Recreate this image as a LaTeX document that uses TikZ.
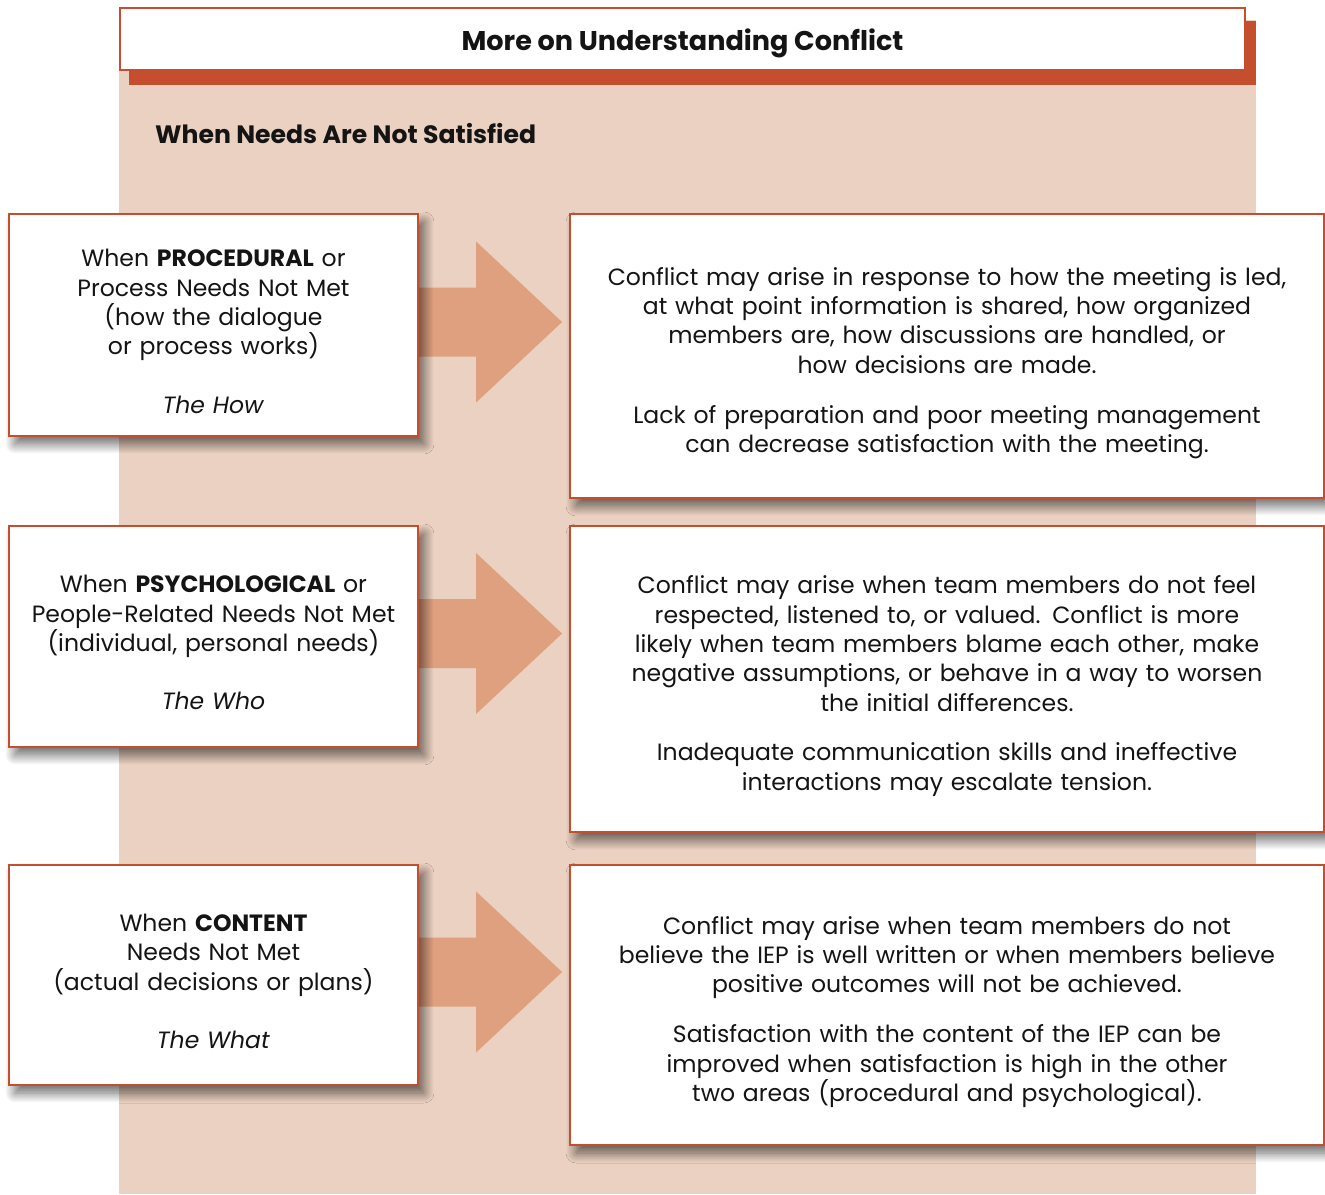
\documentclass[tikz,border=0pt]{standalone}
\usepackage{fontspec}
\setmainfont{Poppins}
\usepackage{tikz}
\usetikzlibrary{positioning,calc,shadows.blur,backgrounds}
\definecolor{rust}{RGB}{197,78,46}
\definecolor{panel}{RGB}{235,209,193}
\definecolor{arrowfill}{RGB}{223,160,128}
\definecolor{ink}{RGB}{20,20,20}

\begin{document}
\begin{tikzpicture}[
                  x=0.02cm,y=0.02cm,
                  font=\fontsize{13.4}{16.7}\selectfont,
                  text=ink,
                  shade/.style={blur shadow={shadow xshift=0.12cm,shadow yshift=-0.16cm,shadow blur radius=0.2cm,shadow blur steps=16,shadow opacity=60}},
                  need/.style={draw=rust,line width=1.3pt,fill=white,shade,align=center,minimum width=8.18cm,text width=7.9cm,execute at begin node={\rule{0pt}{0.6cm}}},
                  why/.style={draw=rust,line width=1.3pt,fill=white,shade,align=center,minimum width=15.08cm,text width=14.7cm,execute at begin node={\rule{0pt}{0.64cm}}}
                ]
                \useasboundingbox (0,0) rectangle (1325,-1194);
                % title
                \fill[rust] (129,-21) rectangle (1256,-85);
                \node[draw=rust,line width=1.3pt,fill=white,minimum width=22.5cm,minimum height=1.24cm,text height=0.44cm,text depth=0pt,font=\fontsize{15.4}{18}\selectfont\bfseries] (title) at (682.5,-39) {More on Understanding Conflict};
                \node[anchor=west,font=\fontsize{14.3}{17}\selectfont\bfseries] (sub) at (149,-134) {When Needs Are Not Satisfied};
                
                \node[need,minimum height=4.44cm] (l1) at (213.5,-325) {When \textbf{PROCEDURAL} or\\Process Needs Not Met\\(how the dialogue\\or process works)\\[0.58cm]\textit{The How}};
                \node[need,minimum height=4.42cm] (l2) at (213.5,-636.5) {When \textbf{PSYCHOLOGICAL} or\\People-Related Needs Not Met\\(individual, personal needs)\\[0.58cm]\textit{The Who}};
                \node[need,minimum height=4.40cm] (l3) at (213.5,-975) {When \textbf{CONTENT}\\Needs Not Met\\(actual decisions or plans)\\[0.58cm]\textit{The What}};
                
                \node[why,minimum height=5.68cm] (r1) at (947,-356) {Conflict may arise in response to how the meeting is led,\\at what point information is shared, how organized\\members are, how discussions are handled, or\\how decisions are made.\\[0.41cm]Lack of preparation and poor meeting management\\can decrease satisfaction with the meeting.};
                \node[why,minimum height=6.12cm] (r2) at (947,-679) {Conflict may arise when team members do not feel\\respected, listened to, or valued. Conflict is more\\likely when team members blame each other, make\\negative assumptions, or behave in a way to worsen\\the initial differences.\\[0.41cm]Inadequate communication skills and ineffective\\interactions may escalate tension.};
                \node[why,minimum height=5.60cm] (r3) at (947,-1005) {Conflict may arise when team members do not\\believe the IEP is well written or when members believe\\positive outcomes will not be achieved.\\[0.41cm]Satisfaction with the content of the IEP can be\\improved when satisfaction is high in the other\\two areas (procedural and psychological).};
                
                \begin{scope}[on background layer]
                \fill[panel] (119,-20) rectangle (1256,-1194);
                \foreach \a in {1,2,3}{
                  \fill[arrowfill] ($(l\a.east)+(-2,3)$) ++(0,34.5) -- ++(59,0) -- ++(0,46) -- ++(86,-80.5) -- ++(-86,-80.5) -- ++(0,46) -- ++(-59,0) -- cycle;
                }
                \end{scope}
                \end{tikzpicture}
\end{document}
